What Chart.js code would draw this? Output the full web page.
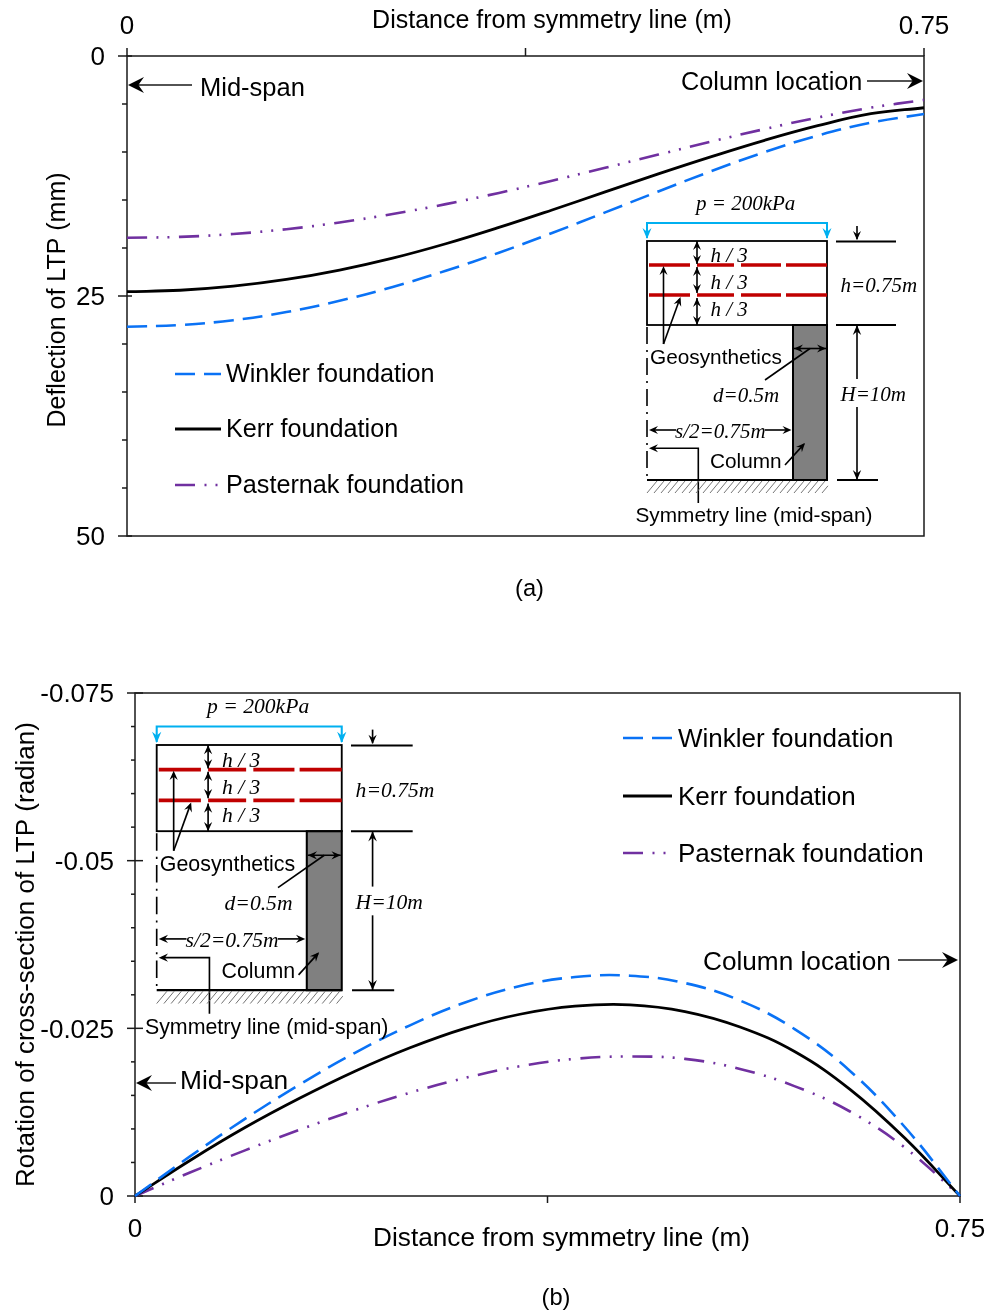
<!DOCTYPE html>
<html><head><meta charset="utf-8">
<style>html,body{margin:0;padding:0;background:#fff}canvas{position:absolute;left:0;display:block}#a{top:0}#b{top:620px}</style>
<script src="https://cdn.jsdelivr.net/npm/chart.js@4/dist/chart.umd.min.js"></script>
</head><body>
<canvas id="a" width="992" height="620"></canvas>
<canvas id="b" width="992" height="696"></canvas>
<script>
const xValues=[0,0.05,0.1,0.15,0.2,0.25,0.3,0.35,0.4,0.45,0.5,0.55,0.6,0.65,0.7,0.75];
const seriesNames=['Winkler foundation','Kerr foundation','Pasternak foundation'];
const winklerA=[28.2,28.02,27.52,26.67,25.5,24.05,22.37,20.49,18.44,16.29,14.11,11.99,10.01,8.29,6.94,6.04];
const kerrA=[24.55,24.40,23.98,23.28,22.30,21.06,19.56,17.86,16.04,14.16,12.28,10.48,8.78,7.26,6.01,5.39];
const pasternakA=[18.94,18.84,18.54,18.04,17.34,16.46,15.43,14.26,12.99,11.65,10.27,8.91,7.61,6.41,5.38,4.58];
const winklerB=[0,-0.0059,-0.0115,-0.01665,-0.02135,-0.02545,-0.02885,-0.0313,-0.03265,-0.03285,-0.03175,-0.02915,-0.02485,-0.01865,-0.01025,0];
const kerrB=[0,-0.0053,-0.0102,-0.0146,-0.0186,-0.0221,-0.025,-0.0271,-0.0283,-0.0285,-0.0275,-0.0252,-0.0215,-0.0159,-0.0086,0];
const pasternakB=[0,-0.0035,-0.0068,-0.0099,-0.0128,-0.0154,-0.0176,-0.01935,-0.02045,-0.0208,-0.02045,-0.01895,-0.01635,-0.0126,-0.0072,0];
const xTicks=[0,0.375,0.75];
const xLabels=['0','','0.75'];
const yTicksA=[0,5,10,15,20,25,30,35,40,45,50];
const yLabelsA=['0','','','','','25','','','','','50'];
const yTicksB=[-0.075,-0.07,-0.065,-0.06,-0.055,-0.05,-0.045,-0.04,-0.035,-0.03,-0.025,-0.02,-0.015,-0.01,-0.005,0];
const yLabelsB=['-0.075','','','','','-0.05','','','','','-0.025','','','','','0'];

const SANS='"Liberation Sans",Arial,sans-serif', SERIF='"Liberation Serif","Times New Roman",serif';
const BLUE='#0a72f5',BLACK='#000',PURPLE='#7030a0';
const styles=[{c:BLUE,w:2.6,d:[20,9]},{c:BLACK,w:2.8,d:[]},{c:PURPLE,w:2.6,d:[20,9.5,2,9,2,9.5]}];
const AXIS='#1a1a1a';

function line(c,x1,y1,x2,y2){c.beginPath();c.moveTo(x1,y1);c.lineTo(x2,y2);c.stroke();}
function head(c,x1,y1,x2,y2,len,hw){
  const a=Math.atan2(y2-y1,x2-x1),ca=Math.cos(a),sa=Math.sin(a);
  const p=(l,s)=>[x2-l*ca-s*sa,y2-l*sa+s*ca];
  c.beginPath();c.moveTo(x2,y2);c.lineTo(...p(len,hw));c.lineTo(...p(len*0.65,0));c.lineTo(...p(len,-hw));c.closePath();c.fill();
}
function arrow(c,x1,y1,x2,y2,len,hw){line(c,x1,y1,x2-(x2-x1)*0.05,y2-(y2-y1)*0.05);head(c,x1,y1,x2,y2,len,hw);}
function dbl(c,x1,y1,x2,y2,len,hw){line(c,x1,y1,x2,y2);head(c,x1,y1,x2,y2,len,hw);head(c,x2,y2,x1,y1,len,hw);}
function text(c,s,x,y,font,align){c.font=font;c.textAlign=align||'left';c.textBaseline='middle';c.fillStyle='#000';c.fillText(s,x,y+1.5);}

function drawInset(c){
  const it='italic 21px '+SERIF, sa='20.8px '+SANS;
  c.lineCap='butt';c.setLineDash([]);
  c.strokeStyle='#00b0f0';c.fillStyle='#00b0f0';c.lineWidth=2;
  c.beginPath();c.moveTo(647,238);c.lineTo(647,223);c.lineTo(827,223);c.lineTo(827,238);c.stroke();
  head(c,647,228,647,239,11,4.5);head(c,827,228,827,239,11,4.5);
  c.strokeStyle='#000';c.fillStyle='#808080';c.lineWidth=2;
  c.fillRect(793,325,34,155);c.strokeRect(793,325,34,155);
  c.lineWidth=1.8;c.strokeRect(647,241,180,84);
  c.lineWidth=2.2;line(c,647,480,827,480);
  c.lineWidth=2;line(c,836,241.5,896,241.5);line(c,836,325,896,325);line(c,837,480,878,480);
  c.strokeStyle='#c00000';c.lineWidth=3.6;
  [265,295].forEach(y=>[[649,690],[697,734],[741,781],[786,827]].forEach(s=>line(c,s[0],y,s[1],y)));
  c.strokeStyle='#000';c.fillStyle='#000';c.lineWidth=1.6;
  dbl(c,697,241,697,264,9,4);dbl(c,697,267,697,293,9,4);dbl(c,697,298,697,325,9,4);
  arrow(c,857,226,857,240,9,4);
  dbl(c,857,325,857,480,10,4.2);
  c.save();c.fillStyle='#fff';c.fillRect(848,379,18,28);c.restore();
  arrow(c,663.5,344,663.5,266,9,4);arrow(c,663.5,344,680.5,297,9,4);
  dbl(c,794,348.5,826,348.5,9,4);line(c,765,380,810,348.5);
  line(c,652,430,676,430);head(c,676,430,649,430,9,4);
  line(c,765,430,789,430);head(c,765,430,791.5,430,9,4);
  c.beginPath();c.moveTo(698.3,503);c.lineTo(698.3,448.3);c.lineTo(652,448.3);c.stroke();head(c,660,448.3,649,448.3,9,4);
  arrow(c,785,465,805,443,9,4);
  c.lineWidth=1.6;c.setLineDash([17,6,2,6]);line(c,647,327,647,480);c.setLineDash([]);
  c.strokeStyle='#666';c.lineWidth=0.9;
  for(let x=647;x<824;x+=7)line(c,x,493,Math.min(x+10,828),493-Math.min(10,828-x)*1.2);
  text(c,'p = 200kPa',696,203,it);
  text(c,'h / 3',710.5,255,it);text(c,'h / 3',710.5,282,it);text(c,'h / 3',710.5,309,it);
  text(c,'h=0.75m',840.5,285,it);text(c,'H=10m',840.5,394,it);
  text(c,'d=0.5m',713,395,it);text(c,'s/2=0.75m',675,431,it);
  text(c,'Geosynthetics',650,357,sa);text(c,'Column',710,460.5,sa);
  text(c,'Symmetry line (mid-span)',635.5,515,sa);
}

function ticksPlugin(o){return {id:'frame',beforeDatasetsDraw(ch){
  const c=ch.ctx,a=ch.chartArea;c.save();c.strokeStyle=AXIS;c.lineWidth=1.5;c.setLineDash([]);
  c.strokeRect(a.left,a.top,a.right-a.left,a.bottom-a.top);
  const y=ch.scales.y,x=ch.scales.x;
  y.ticks.forEach(t=>{const p=y.getPixelForValue(t.value);const maj=t.label!=='';
    line(c,a.left-(maj?o.majOut:o.minOut),p,a.left+(maj?o.majIn:0),p);});
  x.ticks.forEach(t=>{const p=x.getPixelForValue(t.value);
    if(o.top)line(c,p,a.top-8,p,a.top);else line(c,p,a.bottom,p,a.bottom+7);});
  c.restore();}};}

function legendDraw(c,ch,x1,x2,tx,ys,size){
  ch.data.datasets.forEach((d,i)=>{
    c.strokeStyle=d.borderColor;c.lineWidth=d.borderWidth;c.setLineDash(d.borderDash||[]);
    line(c,x1,ys[i],x2,ys[i]);c.setLineDash([]);
    text(c,d.label,tx,ys[i],size+'px '+SANS);
  });
}
function rot(c,s,x,y,font){c.save();c.translate(x,y);c.rotate(-Math.PI/2);text(c,s,0,0,font,'center');c.restore();}

const notesA={id:'notes',afterDraw(ch){const c=ch.ctx;c.save();
  rot(c,'Deflection of LTP (mm)',57,300,'25px '+SANS);
  text(c,'Distance from symmetry line (m)',552,20,'25px '+SANS,'center');
  text(c,'(a)',529.5,588,'23.7px '+SANS,'center');
  text(c,'Mid-span',200,87,'25.5px '+SANS);text(c,'Column location',681,81.5,'25.3px '+SANS);
  c.strokeStyle='#1a1a1a';c.fillStyle='#000';c.lineWidth=1.4;
  arrow(c,192,85,128,85,16,8);arrow(c,867,81,923,81,16,8);
  legendDraw(c,ch,175,221,226,[374,429,485],25.2);
  drawInset(c);c.restore();}};
const notesB={id:'notes',afterDraw(ch){const c=ch.ctx;c.save();c.translate(0,-620);
  rot(c,'Rotation of cross-section of LTP (radian)',25,954.5,'26px '+SANS);
  text(c,'Distance from symmetry line (m)',561.5,1237,'26.2px '+SANS,'center');
  text(c,'(b)',556,1297,'23.7px '+SANS,'center');
  text(c,'Mid-span',180,1080,'26.3px '+SANS);text(c,'Column location',703,961,'26.2px '+SANS);
  c.strokeStyle='#1a1a1a';c.fillStyle='#000';c.lineWidth=1.4;
  arrow(c,176,1083,136,1083,16,8);arrow(c,898,960,958,960,16,8);
  legendDraw(c,ch,623,672,678,[738,796,853],26);
  c.save();c.translate(156.7,745);c.scale(1.028,1.026);c.translate(-647,-241);drawInset(c);c.restore();
  c.restore();}};

function datasets(w,k,p){return [w,k,p].map((v,i)=>({label:seriesNames[i],data:xValues.map((x,j)=>({x,y:v[j]})),
  borderColor:styles[i].c,borderWidth:styles[i].w,borderDash:styles[i].d,pointRadius:0,fill:false,
  tension:0.4,clip:false,borderCapStyle:'butt'}));}
function build(id,cfg){
  const fontT={family:'"Liberation Sans"',size:cfg.tick};
  return new Chart(document.getElementById(id),{type:'line',
    data:{datasets:datasets(...cfg.data)},
    plugins:[ticksPlugin(cfg.tk),cfg.notes],
    options:{responsive:false,animation:false,events:[],
      layout:{padding:cfg.pad},
      plugins:{legend:{display:false},title:{display:false},tooltip:{enabled:false}},
      scales:{
        x:{type:'linear',position:cfg.xPos,min:0,max:0.75,grid:{display:false,drawTicks:false},border:{display:false},
          afterBuildTicks(s){s.ticks=xTicks.map(v=>({value:v}));},
          afterFit(s){s.height=cfg.xH;s.paddingLeft=0;s.paddingRight=0;},
          ticks:{autoSkip:false,maxRotation:0,minRotation:0,color:'#000',font:fontT,padding:cfg.xPad,
            labelOffset:(c)=>cfg.xOff[c.index]||0,
            callback:(v)=>xLabels[xTicks.indexOf(v)]}},
        y:{type:'linear',reverse:true,min:cfg.yMin,max:cfg.yMax,grid:{display:false,drawTicks:false},border:{display:false},
          afterBuildTicks(s){s.ticks=cfg.yTicks.map(v=>({value:v}));},
          afterFit(s){s.width=cfg.yW;s.paddingTop=0;s.paddingBottom=0;},
          ticks:{autoSkip:false,color:'#000',font:fontT,padding:cfg.yPad,labelOffset:2,
            callback:(v)=>cfg.yLabels[cfg.yTicks.indexOf(v)]}}
      }}});
}
build('a',{data:[winklerA,kerrA,pasternakA],notes:notesA,tk:{top:true,majOut:9,minOut:5,majIn:5},tick:26,xOff:[-1,0,3],
  pad:{left:0,right:68,top:0,bottom:84},xPos:'top',xH:56,yW:127,xPad:14,yPad:22,yMin:0,yMax:50,yTicks:yTicksA,yLabels:yLabelsA});
build('b',{data:[winklerB,kerrB,pasternakB],notes:notesB,tk:{top:false,majOut:8,minOut:4,majIn:8},tick:26,xOff:[0,0,0],
  pad:{left:0,right:32,top:73,bottom:0},xPos:'bottom',xH:120,yW:135,xPad:18,yPad:21,yMin:-0.075,yMax:0,yTicks:yTicksB,yLabels:yLabelsB});
</script>
</body></html>
